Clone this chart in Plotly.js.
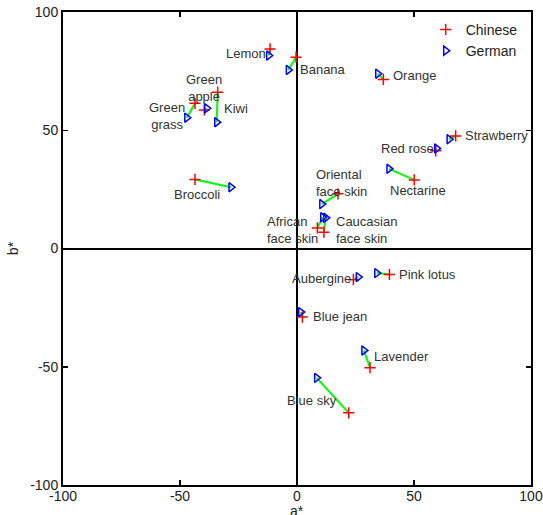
<!DOCTYPE html>
<html>
<head>
<meta charset="utf-8">
<script src="https://cdn.plot.ly/plotly-2.35.2.min.js"></script>
<style>html,body{margin:0;padding:0;background:#fff;}#chart{width:543px;height:515px;}</style>
</head>
<body>
<div id="chart"></div>
<script>
// Colour names
const names = ["Lemon","Banana","Green apple","Kiwi","Green grass","Broccoli","Orange","Strawberry","Red rose","Nectarine","Oriental face skin","African face skin","Caucasian face skin","Aubergine","Pink lotus","Blue jean","Lavender","Blue sky"];
// Chinese a*, b*
const chineseA = [-11.5,-0.4,-33.9,-39.6,-43.6,-43.6,36.9,67.8,59.3,50.1,17.5,8.7,11.5,24.1,39.5,2.3,31.2,22.1];
const chineseB = [84.4,80.9,66.1,58.6,61.4,29.2,71.5,47.6,41.3,29.0,23.1,8.7,6.9,-13.2,-11.0,-29.0,-50.4,-69.5];
// German a*, b*
const germanA = [-12.1,-3.7,-34.3,-38.6,-47.1,-28.2,34.5,65.0,59.7,39.3,10.6,11.0,12.3,26.2,34.1,1.6,28.6,8.4];
const germanB = [81.6,75.5,53.4,59.3,55.3,25.9,73.9,46.2,42.3,33.7,18.8,13.2,13.0,-12.1,-10.4,-26.9,-43.1,-54.7];
// Label texts and anchor points (a*, b*)
const labelText = ["Lemon","Banana","Green<br>apple","Kiwi","Green<br>grass","Broccoli","Orange","Strawberry","Red rose","Nectarine","Oriental<br>face skin","African<br>face skin","Caucasian<br>face skin","Aubergine","Pink lotus","Blue jean","Lavender","Blue sky"];
const labelA = [-30.8,0.9,-39.7,-31.6,-55.6,-53.0,40.6,71.4,35.5,39.3,7.7,-13.2,16.2,-2.6,43.2,6.4,32.5,-4.7];
const labelB = [82.5,75.7,67.9,59.2,56.0,22.8,73.2,47.8,42.3,24.5,27.9,7.8,7.8,-12.7,-11.0,-28.8,-45.7,-64.3];
const labelAlign = ["left","left","center","left","center","left","left","left","left","left","left","left","left","left","left","left","left","left"];
const ticks = [-100,-50,0,50,100];

const lx = [], ly = [];
for (let i = 0; i < names.length; i++) {
  lx.push(chineseA[i], germanA[i], null);
  ly.push(chineseB[i], germanB[i], null);
}

const traces = [
  {x: lx, y: ly, mode: "lines", line: {color: "#00ff00", width: 2}, showlegend: false, hoverinfo: "skip"},
  {x: chineseA, y: chineseB, mode: "markers", name: "Chinese", text: names,
   marker: {symbol: "cross-thin-open", size: 8, color: "#ff0000", line: {color: "#ff0000", width: 1.5}}},
  {x: germanA, y: germanB, mode: "markers", name: "German", text: names,
   marker: {symbol: "triangle-right-open", size: 8, color: "#0000ff", line: {color: "#0000ff", width: 1.5}}}
];

const annotations = labelText.map((t, i) => ({
  x: labelA[i], y: labelB[i], xref: "x", yref: "y", text: t, showarrow: false,
  xanchor: labelAlign[i] === "center" ? "center" : "left", yanchor: "middle", align: labelAlign[i],
  font: {family: "Liberation Sans, Arial, sans-serif", size: 13, color: "#333"}, borderpad: 0
}));
annotations.push({
  x: 0, y: -0.036, xref: "x", yref: "paper", text: "a*", showarrow: false,
  xanchor: "center", yanchor: "top", borderpad: 0,
  font: {family: "Liberation Sans, Arial, sans-serif", size: 14, color: "#222"}
});

const axisCommon = {
  range: [-100, 100], tickvals: ticks, ticktext: ticks.map(String),
  showgrid: false, zeroline: true, zerolinecolor: "#000", zerolinewidth: 2,
  showline: true, linecolor: "#000", linewidth: 2, mirror: "ticks",
  ticks: "inside", ticklen: 5, tickwidth: 1.5, tickcolor: "#000",
  tickfont: {family: "Liberation Sans, Arial, sans-serif", size: 14, color: "#222"}
};

const layout = {
  width: 543, height: 515,
  margin: {l: 63, r: 12, t: 12, b: 30},
  paper_bgcolor: "#fff", plot_bgcolor: "#fff",
  font: {family: "Liberation Sans, Arial, sans-serif", size: 14, color: "#222"},
  xaxis: Object.assign({}, axisCommon, {ticklabelstandoff: -3}),
  yaxis: Object.assign({}, axisCommon, {title: {text: "b*", standoff: 8, font: {size: 14}}}),
  showlegend: true,
  legend: {x: 0.775, y: 0.996, xanchor: "left", yanchor: "top", bgcolor: "rgba(255,255,255,0)",
           font: {size: 14, color: "#222"}, tracegroupgap: 0},
  annotations: annotations
};

Plotly.newPlot("chart", traces, layout, {displayModeBar: false, staticPlot: true});
</script>
</body>
</html>
